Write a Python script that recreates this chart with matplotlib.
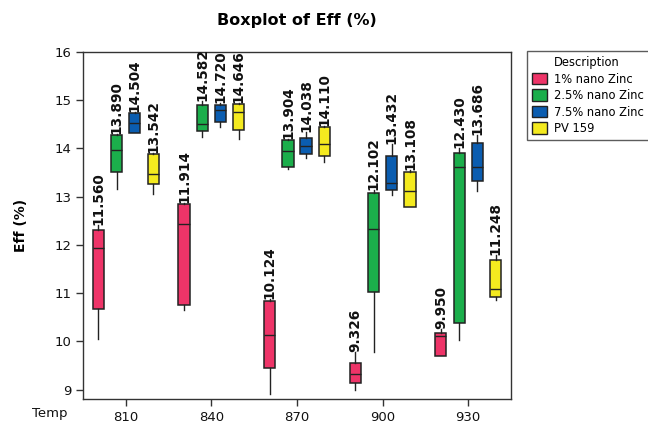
import numpy as np
import matplotlib
matplotlib.use("Agg")
import matplotlib.pyplot as plt
from matplotlib.patches import Patch

temps = ["810", "840", "870", "900", "930"]
series = ["1% nano Zinc", "2.5% nano Zinc", "7.5% nano Zinc", "PV 159"]
colors = ["#EE3468", "#1BAE4B", "#0B5DB0", "#F4EA1F"]

# whisker low, Q1, median, Q3, whisker high, mean (label)
lo_1 = [10.04, 10.64, 8.91, 8.99, 9.69]
q1_1 = [10.67, 10.75, 9.44, 9.13, 9.69]
med_1 = [11.93, 12.43, 10.13, 9.33, 10.11]
q3_1 = [12.31, 12.84, 10.84, 9.55, 10.18]
hi_1 = [12.41, 12.86, 10.87, 9.77, 10.25]
mean_1 = [11.560, 11.914, 10.124, 9.326, 9.950]

lo_25 = [13.16, 14.23, 13.57, 9.79, 10.03]
q1_25 = [13.50, 14.36, 13.62, 11.03, 10.38]
med_25 = [13.96, 14.50, 13.95, 12.32, 13.62]
q3_25 = [14.28, 14.90, 14.17, 13.07, 13.90]
hi_25 = [14.30, 14.97, 14.19, 13.14, 14.00]
mean_25 = [13.890, 14.582, 13.904, 12.102, 12.430]

lo_75 = [14.31, 14.43, 13.79, 13.03, 13.12]
q1_75 = [14.32, 14.55, 13.88, 13.14, 13.33]
med_75 = [14.52, 14.79, 14.05, 13.29, 13.62]
q3_75 = [14.72, 14.90, 14.21, 13.83, 14.10]
hi_75 = [14.76, 14.94, 14.33, 14.08, 14.28]
mean_75 = [14.504, 14.720, 14.038, 13.432, 13.686]

lo_pv = [13.05, 14.19, 13.72, 12.78, 10.86]
q1_pv = [13.25, 14.38, 13.83, 12.79, 10.91]
med_pv = [13.47, 14.75, 14.09, 13.12, 11.09]
q3_pv = [13.88, 14.91, 14.45, 13.50, 11.69]
hi_pv = [13.91, 14.94, 14.47, 13.55, 11.79]
mean_pv = [13.542, 14.646, 14.110, 13.108, 11.248]

all_data = [
    (lo_1, q1_1, med_1, q3_1, hi_1, mean_1),
    (lo_25, q1_25, med_25, q3_25, hi_25, mean_25),
    (lo_75, q1_75, med_75, q3_75, hi_75, mean_75),
    (lo_pv, q1_pv, med_pv, q3_pv, hi_pv, mean_pv),
]

offsets = [-0.32, -0.105, 0.105, 0.32]
edge = "#222222"

fig = plt.figure(figsize=(6.48, 4.24), dpi=100)
ax = fig.add_axes([83 / 648, 1 - 399.3 / 424, 428 / 648, 347.6 / 424])

x = np.arange(len(temps))
for k, (lo, q1, med, q3, hi, mn) in enumerate(all_data):
    stats = []
    for i in range(len(temps)):
        stats.append({"whislo": lo[i], "q1": q1[i], "med": med[i],
                      "q3": q3[i], "whishi": hi[i], "fliers": []})
    pos = x + offsets[k]
    ax.bxp(stats, positions=pos, widths=0.13, patch_artist=True,
           showcaps=False, showfliers=False, manage_ticks=False,
           boxprops=dict(facecolor=colors[k], edgecolor=edge, linewidth=1.1),
           medianprops=dict(color=edge, linewidth=1.0),
           whiskerprops=dict(color=edge, linewidth=1.0))
    for i in range(len(temps)):
        ax.text(pos[i], hi[i], f"{mn[i]:.3f}", rotation=90, ha="center",
                va="bottom", fontsize=9.8, fontweight="bold", color="#111111")

ax.set_xlim(-0.5, 4.5)
ax.set_ylim(8.8, 16)
ax.set_xticks(x)
ax.set_xticklabels(temps)
ax.set_yticks(range(9, 17))
ax.tick_params(labelsize=9.5, length=5, width=1, color="#333333", labelcolor="#111111")
for s in ax.spines.values():
    s.set_color("#333333")
    s.set_linewidth(1.0)

ax.set_ylabel("Eff (%)", fontsize=10, fontweight="bold", labelpad=19)
fig.text(50 / 648, 1 - 413 / 424, "Temp", fontsize=9.5, ha="center", va="center", color="#111111")
fig.text(297 / 648, 1 - 21 / 424, "Boxplot of Eff (%)", fontsize=11.5,
         fontweight="bold", ha="center", va="center")

handles = [Patch(visible=False)] + [Patch(facecolor=c, edgecolor=edge, linewidth=1.0) for c in colors]
labels = ["Description"] + series
leg = fig.legend(handles, labels, loc="upper left", bbox_to_anchor=(527 / 648, 1 - 51 / 424),
                 bbox_transform=fig.transFigure, borderaxespad=0, fontsize=8.3,
                 frameon=True, fancybox=False, edgecolor="#333333",
                 handlelength=1.3, handleheight=1.15, handletextpad=0.55,
                 labelspacing=0.3, borderpad=0.45)
leg.get_frame().set_linewidth(1.0)

fig.savefig("out.png", dpi=100)
